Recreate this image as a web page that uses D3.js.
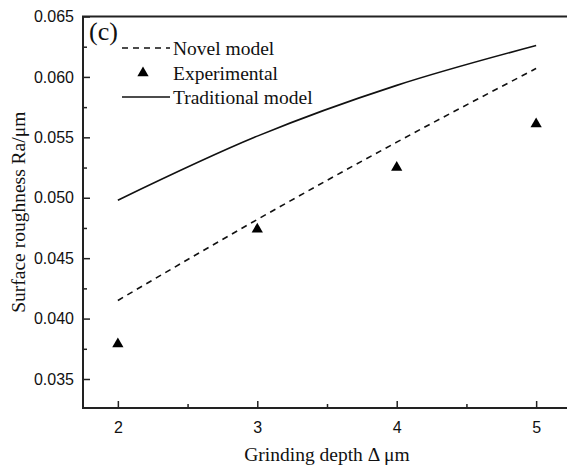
<!DOCTYPE html>
<html>
<head>
<meta charset="utf-8">
<script src="https://cdn.jsdelivr.net/npm/d3@7"></script>
<style>
  html, body { margin: 0; padding: 0; background: #fff; }
  svg { display: block; }
  .tick text { font-family: "Liberation Sans", Arial, sans-serif; font-size: 16px; fill: #111; }
  .serif { font-family: "Liberation Serif", "Times New Roman", serif; fill: #111; }
</style>
</head>
<body>
<div id="chart"></div>
<script>
const depths = [2, 3, 4, 5];
const novelModel = [0.0415, 0.0482, 0.0546, 0.0607];
const experimental = [0.0379, 0.0474, 0.0525, 0.0561];
const traditionalModel = [0.0498, 0.0551, 0.0593, 0.0626];
const xTicks = [2, 3, 4, 5];
const yTicks = [0.035, 0.040, 0.045, 0.050, 0.055, 0.060, 0.065];

const W = 567, H = 467, M = { t: 16.5, r: -4, b: 59, l: 83 };
const svg = d3.select('#chart').append('svg').attr('width', W).attr('height', H);

const x = d3.scaleLinear().domain([1.75, 5.25]).range([M.l, W - M.r]);
const y = d3.scaleLinear().domain([0.0326, 0.065]).range([H - M.b, M.t]);

// frame (right edge falls outside the picture)
svg.append('rect')
  .attr('x', M.l).attr('y', M.t)
  .attr('width', W - M.r - M.l).attr('height', H - M.b - M.t)
  .attr('fill', 'none').attr('stroke', '#222').attr('stroke-width', 2);

// minor ticks
const gx = svg.append('g').attr('transform', `translate(0,${H - M.b})`);
gx.call(d3.axisBottom(x).tickValues([2.5, 3.5, 4.5]).tickSize(-4).tickFormat(''));
gx.call(g => g.select('.domain').remove());
const gx2 = svg.append('g').attr('transform', `translate(0,${H - M.b})`)
  .call(d3.axisBottom(x).tickValues(xTicks).tickSize(-7).tickPadding(14).tickFormat(d3.format('d')));
gx2.select('.domain').remove();

const gy = svg.append('g').attr('transform', `translate(${M.l},0)`);
gy.call(d3.axisLeft(y).tickValues([0.0375, 0.0425, 0.0475, 0.0525, 0.0575, 0.0625]).tickSize(-4).tickFormat(''));
gy.select('.domain').remove();
const gy2 = svg.append('g').attr('transform', `translate(${M.l},0)`)
  .call(d3.axisLeft(y).tickValues(yTicks).tickSize(-7).tickPadding(9).tickFormat(d3.format('.3f')));
gy2.select('.domain').remove();
svg.selectAll('.tick line').attr('stroke', '#222').attr('stroke-width', 1.5);

// lines
const line = vals => d3.line().x((d, i) => x(depths[i])).y(d => y(d)).curve(d3.curveMonotoneX)(vals);
svg.append('path').attr('d', line(traditionalModel))
  .attr('fill', 'none').attr('stroke', '#111').attr('stroke-width', 1.6);
svg.append('path').attr('d', line(novelModel))
  .attr('fill', 'none').attr('stroke', '#111').attr('stroke-width', 1.6).attr('stroke-dasharray', '6,5');

const tri = d3.symbol().type(d3.symbolTriangle).size(55);
svg.selectAll('path.pt').data(experimental).enter().append('path')
  .attr('class', 'pt')
  .attr('d', tri)
  .attr('transform', (d, i) => `translate(${x(depths[i])},${y(d)})`)
  .attr('fill', '#000');

// panel tag
svg.append('text').attr('class', 'serif').attr('x', 89).attr('y', 40)
  .attr('font-size', 26).text('(c)');

// legend
const legend = svg.append('g');
const items = [
  { label: 'Novel model', kind: 'dash', y: 48 },
  { label: 'Experimental', kind: 'tri', y: 73 },
  { label: 'Traditional model', kind: 'solid', y: 97 }
];
items.forEach(it => {
  if (it.kind === 'tri') {
    legend.append('path').attr('d', tri).attr('transform', `translate(143,${it.y})`).attr('fill', '#000');
  } else {
    legend.append('line').attr('x1', 122).attr('x2', 170).attr('y1', it.y).attr('y2', it.y)
      .attr('stroke', '#111').attr('stroke-width', 1.6)
      .attr('stroke-dasharray', it.kind === 'dash' ? '6,5' : null);
  }
  legend.append('text').attr('class', 'serif').attr('x', 173).attr('y', it.y + 7)
    .attr('font-size', 19.5).text(it.label);
});

// axis titles
svg.append('text').attr('class', 'serif').attr('x', (M.l + W - M.r) / 2).attr('y', 461)
  .attr('text-anchor', 'middle').attr('font-size', 19.5).text('Grinding depth Δ μm');
svg.append('text').attr('class', 'serif')
  .attr('transform', `translate(25,${(M.t + H - M.b) / 2}) rotate(-90)`)
  .attr('text-anchor', 'middle').attr('font-size', 19.5).text('Surface roughness Ra/μm');
</script>
</body>
</html>
